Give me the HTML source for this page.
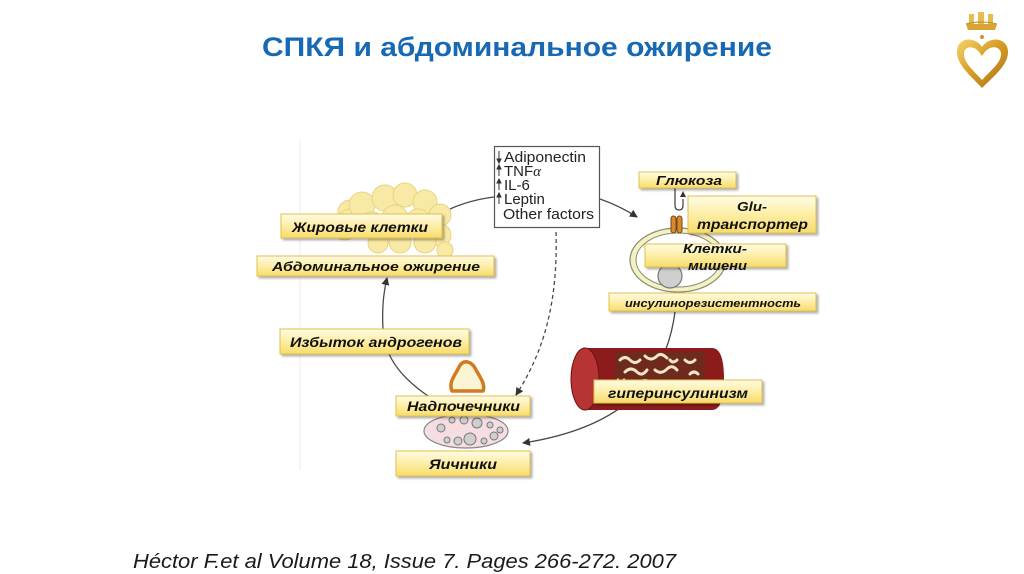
<!DOCTYPE html>
<html><head><meta charset="utf-8">
<style>
html,body{margin:0;padding:0;background:#fff;}
svg{display:block;}
.lbl{font-family:"Liberation Sans",sans-serif;font-weight:bold;font-style:italic;fill:#111;}
.adi{font-family:"Liberation Sans",sans-serif;font-size:15px;fill:#222;}
</style></head>
<body>
<svg width="1024" height="574" viewBox="0 0 1024 574" xmlns="http://www.w3.org/2000/svg">
<defs>
<linearGradient id="yb" x1="0" y1="0" x2="0" y2="1">
<stop offset="0" stop-color="#fffbe6"/><stop offset="0.5" stop-color="#fdeea6"/><stop offset="1" stop-color="#f7dc6a"/>
</linearGradient>
<linearGradient id="gold" x1="0" y1="0" x2="1" y2="1">
<stop offset="0" stop-color="#f6d36a"/><stop offset="0.5" stop-color="#d49a22"/><stop offset="1" stop-color="#a8701a"/>
</linearGradient>
<marker id="ah" markerWidth="8" markerHeight="8" refX="7" refY="4" orient="auto" markerUnits="userSpaceOnUse">
<path d="M0,0 L8,4 L0,8 Z" fill="#333"/>
</marker>
<filter id="sh" x="-10%" y="-20%" width="130%" height="160%">
<feDropShadow dx="2" dy="2" stdDeviation="1" flood-color="#000" flood-opacity="0.3"/>
</filter>
</defs>

<!-- title -->
<text x="262" y="56" font-family="Liberation Sans, sans-serif" font-weight="bold" font-size="27" fill="#1769b3" textLength="510" lengthAdjust="spacingAndGlyphs">СПКЯ и абдоминальное ожирение</text>

<!-- logo -->
<g>
<path d="M968,30 L995,30 L997,24 L966,24 Z" fill="#d8a534"/>
<rect x="969" y="14" width="5" height="10" fill="#e8bd50"/>
<rect x="978" y="12" width="6" height="12" fill="#e8bd50"/>
<rect x="988" y="14" width="5" height="10" fill="#e8bd50"/>
<path d="M966,24 Q981,20 997,24" stroke="#b98a25" fill="none"/>
<circle cx="982" cy="37" r="2" fill="#c99530"/>
<path d="M982,88 C970,75 957,65 957,52 C957,42 965,38 972,40 C977,41 980,44 982,47 C984,44 987,41 992,40 C999,38 1008,42 1008,52 C1008,65 995,75 982,88 Z" fill="url(#gold)"/>
<path d="M982,80 C973,70 964,63 964,54 C964,48 969,46 974,48 C978,50 980,53 982,56 C984,53 986,50 990,48 C995,46 1001,48 1001,54 C1001,63 991,70 982,80 Z" fill="#fff"/>
</g>

<!-- faint frame line -->
<line x1="300" y1="140" x2="300" y2="470" stroke="#eeeeee" stroke-width="1"/>

<!-- connectors -->
<g fill="none" stroke="#4a4a4a" stroke-width="1.3">
<path d="M450,209 Q470,200 494,197"/>
<path d="M600,199 Q620,206 637,217" marker-end="url(#ah)"/>
<path d="M675,312 C668,365 640,425 523,443" marker-end="url(#ah)"/>
<path d="M428,396 C405,380 385,360 383,330 C382,310 383,295 387,278" marker-end="url(#ah)"/>
<path d="M556,232 C558,300 545,350 516,395" stroke-dasharray="4,3" marker-end="url(#ah)"/>
<path d="M675,187 L675,205 Q675,210 679,210 Q683,210 683,205 L683,199"/>
</g>
<path d="M680,197 L683,191 L686,197 Z" fill="#333"/>

<!-- adipokine box -->
<rect x="494.5" y="146.5" width="105" height="81" fill="#fff" stroke="#555" stroke-width="1.2"/>
<g stroke="#333" stroke-width="1" fill="#333">
<line x1="499" y1="151" x2="499" y2="162"/><path d="M497,159 L499,163 L501,159 Z"/>
<line x1="499" y1="166" x2="499" y2="176"/><path d="M497,169 L499,165 L501,169 Z"/>
<line x1="499" y1="180" x2="499" y2="190"/><path d="M497,183 L499,179 L501,183 Z"/>
<line x1="499" y1="194" x2="499" y2="204"/><path d="M497,197 L499,193 L501,197 Z"/>
</g>
<text class="adi" x="504" y="162" textLength="82" lengthAdjust="spacingAndGlyphs">Adiponectin</text>
<text class="adi" x="504" y="176">TNF<tspan font-family="Liberation Serif, serif" font-style="italic">α</tspan></text>
<text class="adi" x="504" y="190">IL-6</text>
<text class="adi" x="504" y="204">Leptin</text>
<text class="adi" x="503" y="219" textLength="91" lengthAdjust="spacingAndGlyphs">Other factors</text>

<!-- fat cells -->
<g fill="#f8eaa4" stroke="#e6d486" stroke-width="1">
<circle cx="345" cy="228" r="12"/><circle cx="350" cy="212" r="12"/>
<circle cx="350" cy="222" r="13"/><circle cx="362" cy="205" r="13"/><circle cx="385" cy="198" r="13"/>
<circle cx="405" cy="195" r="12"/><circle cx="425" cy="202" r="12"/><circle cx="440" cy="215" r="11"/>
<circle cx="372" cy="225" r="13"/><circle cx="395" cy="218" r="13"/><circle cx="418" cy="222" r="13"/>
<circle cx="440" cy="235" r="11"/><circle cx="425" cy="242" r="11"/><circle cx="400" cy="242" r="11"/>
<circle cx="378" cy="243" r="10"/><circle cx="445" cy="250" r="8"/>
</g>

<!-- target cell -->
<ellipse cx="678" cy="260" rx="48" ry="32" fill="#f4f1c4" stroke="#8a8a70" stroke-width="1.2"/>
<ellipse cx="678" cy="260" rx="42" ry="27" fill="#fff" stroke="#8a8a70" stroke-width="1"/>
<circle cx="670" cy="276" r="12" fill="#cfcfcf" stroke="#777" stroke-width="1.2"/>
<rect x="671" y="216" width="5" height="17" rx="2.5" fill="#d58a30" stroke="#7a4210" stroke-width="1"/>
<rect x="677" y="216" width="5" height="17" rx="2.5" fill="#d58a30" stroke="#7a4210" stroke-width="1"/>

<!-- cylinder -->
<path d="M585,348 L712,348 Q724,348 724,379 Q724,410 712,410 L585,410 Z" fill="#8c1c1c"/>
<rect x="615" y="352" width="90" height="34" fill="#6e2a1c"/>
<g stroke="#f3e4cc" stroke-width="3" fill="none" stroke-linecap="round">
<path d="M620,360 q5,-5 10,0 q5,5 10,0"/><path d="M645,356 q6,6 12,0 q4,-4 10,2"/>
<path d="M625,372 q6,-6 12,0 q5,5 10,-2"/><path d="M655,370 q6,5 12,-1 q5,-5 10,1"/>
<path d="M685,360 q5,5 10,0"/><path d="M690,374 q4,-4 8,0"/><path d="M640,382 q5,-3 10,0"/>
<path d="M670,360 q3,4 7,0"/><path d="M618,380 q3,3 6,0"/>
</g>
<ellipse cx="585" cy="379" rx="14" ry="31" fill="#b73434" stroke="#6d1010" stroke-width="1"/>

<!-- ovary -->
<ellipse cx="466" cy="431" rx="42" ry="17" fill="#f6dde2" stroke="#888" stroke-width="1.2"/>
<g fill="#cfcfcf" stroke="#777" stroke-width="1">
<circle cx="441" cy="428" r="4"/><circle cx="452" cy="420" r="3"/><circle cx="464" cy="420" r="4"/>
<circle cx="477" cy="423" r="5"/><circle cx="490" cy="425" r="3"/><circle cx="500" cy="430" r="3"/>
<circle cx="447" cy="440" r="3"/><circle cx="458" cy="441" r="4"/><circle cx="470" cy="439" r="6"/>
<circle cx="484" cy="441" r="3"/><circle cx="494" cy="436" r="4"/>
</g>

<!-- adrenal -->
<path d="M452,391 C448,382 456,374 459,367 C463,359 471,361 475,368 C479,376 486,384 483,391 Z" fill="#fbf5d6" stroke="#d27a1e" stroke-width="3.5" stroke-linejoin="round"/>

<!-- label boxes -->
<g filter="url(#sh)" fill="url(#yb)" stroke="#e3c04a" stroke-width="1">
<rect x="281" y="214" width="161" height="24"/>
<rect x="257" y="256" width="237" height="20"/>
<rect x="280" y="329" width="189" height="25"/>
<rect x="396" y="396" width="134" height="20"/>
<rect x="396" y="451" width="134" height="25"/>
<rect x="639" y="172" width="97" height="16"/>
<rect x="688" y="196" width="128" height="37"/>
<rect x="645" y="244" width="141" height="23"/>
<rect x="609" y="293" width="207" height="18"/>
<rect x="594" y="380" width="168" height="23"/>
</g>

<text class="lbl" x="292" y="232" font-size="14" textLength="136" lengthAdjust="spacingAndGlyphs">Жировые клетки</text>
<text class="lbl" x="272" y="271" font-size="13" textLength="208" lengthAdjust="spacingAndGlyphs">Абдоминальное ожирение</text>
<text class="lbl" x="290" y="347" font-size="14" textLength="172" lengthAdjust="spacingAndGlyphs">Избыток андрогенов</text>
<text class="lbl" x="407" y="411" font-size="14" textLength="113" lengthAdjust="spacingAndGlyphs">Надпочечники</text>
<text class="lbl" x="429" y="469" font-size="14" textLength="68" lengthAdjust="spacingAndGlyphs">Яичники</text>
<text class="lbl" x="656" y="185" font-size="13" textLength="66" lengthAdjust="spacingAndGlyphs">Глюкоза</text>
<text class="lbl" x="737" y="211" font-size="13" textLength="30" lengthAdjust="spacingAndGlyphs">Glu-</text>
<text class="lbl" x="697" y="229" font-size="14" textLength="111" lengthAdjust="spacingAndGlyphs">транспортер</text>
<text class="lbl" x="683" y="253" font-size="13" textLength="64" lengthAdjust="spacingAndGlyphs">Клетки-</text>
<text class="lbl" x="688" y="270" font-size="13" textLength="59" lengthAdjust="spacingAndGlyphs">мишени</text>
<text class="lbl" x="625" y="307" font-size="11" textLength="176" lengthAdjust="spacingAndGlyphs">инсулинорезистентность</text>
<text class="lbl" x="608" y="398" font-size="14" textLength="140" lengthAdjust="spacingAndGlyphs">гиперинсулинизм</text>

<!-- citation -->
<text x="133" y="568" font-family="Liberation Sans, sans-serif" font-style="italic" font-size="20" fill="#1a1a1a" textLength="543" lengthAdjust="spacingAndGlyphs">Héctor F.et al  Volume 18, Issue 7. Pages 266-272. 2007</text>
</svg>
</body></html>
